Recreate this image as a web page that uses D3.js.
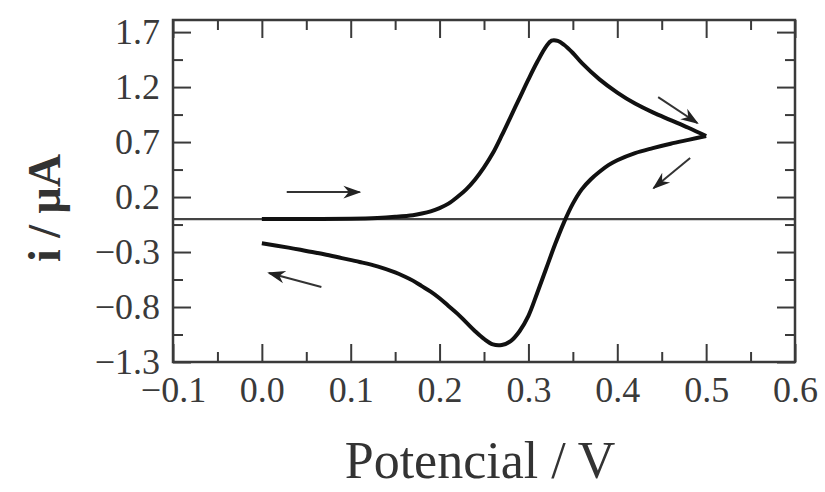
<!DOCTYPE html>
<html>
<head>
    <meta charset="utf-8">
    <style>
        body {
            margin: 0;
            background: #fff;
        }

        svg {
            display: block;
        }

        .axis .domain {
            display: none;
        }

        .axis .tick line {
            stroke: #3a3a3a;
            stroke-width: 2;
        }

        .axis .tick text {
            font-family: "Liberation Serif", "Times New Roman", serif;
            font-size: 36px;
            fill: #3a3a3a;
        }

        .label {
            font-family: "Liberation Serif", "Times New Roman", serif;
            fill: #333;
        }
    </style>
</head>

<body>
    <svg width="825" height="492"></svg>
</body>

<script src="https://cdnjs.cloudflare.com/ajax/libs/d3/7.8.5/d3.min.js"></script>

<script>
    // forward scan (0 -> 0.5 V)
    let fwdV = [0.00, 0.05, 0.10, 0.13, 0.15, 0.17, 0.18, 0.19, 0.20, 0.21, 0.22, 0.23, 0.24, 0.25, 0.26, 0.27, 0.28, 0.29, 0.30, 0.31, 0.32, 0.326, 0.333, 0.34, 0.35, 0.36, 0.38, 0.40, 0.42, 0.44, 0.46, 0.48, 0.50]
    let fwdI = [0.00, 0.00, 0.003, 0.01, 0.02, 0.035, 0.05, 0.07, 0.10, 0.14, 0.20, 0.27, 0.36, 0.47, 0.60, 0.76, 0.93, 1.10, 1.27, 1.43, 1.57, 1.622, 1.62, 1.585, 1.51, 1.42, 1.27, 1.15, 1.05, 0.97, 0.90, 0.83, 0.755]

    // reverse scan (0.5 -> 0 V)
    let revV = [0.50, 0.48, 0.46, 0.44, 0.42, 0.40, 0.39, 0.38, 0.37, 0.36, 0.35, 0.34, 0.33, 0.32, 0.31, 0.30, 0.29, 0.28, 0.27, 0.26, 0.25, 0.24, 0.23, 0.22, 0.21, 0.20, 0.19, 0.18, 0.17, 0.16, 0.15, 0.13, 0.11, 0.09, 0.07, 0.05, 0.03, 0.00]
    let revI = [0.755, 0.72, 0.685, 0.645, 0.60, 0.535, 0.49, 0.43, 0.36, 0.27, 0.14, -0.03, -0.23, -0.45, -0.67, -0.88, -1.02, -1.11, -1.145, -1.14, -1.09, -1.02, -0.94, -0.86, -0.79, -0.72, -0.66, -0.61, -0.56, -0.52, -0.485, -0.43, -0.39, -0.355, -0.32, -0.29, -0.26, -0.22]

    // arrows: [tailV, tailI, headV, headI]
    let arrows = [
        [0.028, 0.245, 0.11, 0.245],
        [0.067, -0.618, 0.008, -0.49],
        [0.446, 1.109, 0.49, 0.873],
        [0.482, 0.555, 0.441, 0.282]
    ]

    let xMajor = [-0.1, 0.0, 0.1, 0.2, 0.3, 0.4, 0.5, 0.6]
    let xMinor = [-0.05, 0.05, 0.15, 0.25, 0.35, 0.45, 0.55]
    let yMajor = [1.7, 1.2, 0.7, 0.2, -0.3, -0.8, -1.3]
    let yMinor = [1.45, 0.95, 0.45, -0.05, -0.55, -1.05]

    let margin = { top: 20, right: 30, bottom: 130, left: 173 }
    let width = 825
    let height = 492

    let svg = d3.select("svg")

    let x = d3.scaleLinear()
        .domain([-0.1, 0.6])
        .range([margin.left, width - margin.right])

    let y = d3.scaleLinear()
        .domain([-1.3, 1.81])
        .range([height - margin.bottom, margin.top])

    let x0 = margin.left, x1 = width - margin.right
    let y0 = height - margin.bottom, y1 = margin.top

    let fmt = d3.format(".1f")

    // bottom
    svg.append("g")
        .attr("class", "axis")
        .attr("transform", `translate(0,${y0})`)
        .call(d3.axisBottom(x).tickValues(xMajor).tickSize(-18).tickPadding(14).tickFormat(fmt))
    svg.append("g")
        .attr("class", "axis")
        .attr("transform", `translate(0,${y0})`)
        .call(d3.axisBottom(x).tickValues(xMinor).tickSize(-10).tickFormat(""))
    // top
    svg.append("g")
        .attr("class", "axis")
        .attr("transform", `translate(0,${y1})`)
        .call(d3.axisTop(x).tickValues(xMajor).tickSize(-18).tickFormat(""))
    svg.append("g")
        .attr("class", "axis")
        .attr("transform", `translate(0,${y1})`)
        .call(d3.axisTop(x).tickValues(xMinor).tickSize(-10).tickFormat(""))
    // left
    svg.append("g")
        .attr("class", "axis")
        .attr("transform", `translate(${x0},0)`)
        .call(d3.axisLeft(y).tickValues(yMajor).tickSize(-18).tickPadding(13).tickFormat(fmt))
    svg.append("g")
        .attr("class", "axis")
        .attr("transform", `translate(${x0},0)`)
        .call(d3.axisLeft(y).tickValues(yMinor).tickSize(-10).tickFormat(""))
    // right
    svg.append("g")
        .attr("class", "axis")
        .attr("transform", `translate(${x1},0)`)
        .call(d3.axisRight(y).tickValues(yMajor).tickSize(-18).tickFormat(""))
    svg.append("g")
        .attr("class", "axis")
        .attr("transform", `translate(${x1},0)`)
        .call(d3.axisRight(y).tickValues(yMinor).tickSize(-10).tickFormat(""))

    // zero line
    svg.append("line")
        .attr("x1", x0).attr("x2", x1)
        .attr("y1", y(0)).attr("y2", y(0))
        .attr("stroke", "#444")
        .attr("stroke-width", 2.2)

    // frame
    svg.append("rect")
        .attr("x", x0).attr("y", y1)
        .attr("width", x1 - x0).attr("height", y0 - y1)
        .attr("fill", "none")
        .attr("stroke", "#3a3a3a")
        .attr("stroke-width", 2.5)

    let line = d3.line()
        .x(d => x(d[0]))
        .y(d => y(d[1]))
        .curve(d3.curveCatmullRom)

    let fwd = fwdV.map((v, i) => [v, fwdI[i]])
    let rev = revV.map((v, i) => [v, revI[i]])

    svg.selectAll(".cv")
        .data([fwd, rev])
        .join("path")
        .attr("class", "cv")
        .attr("d", line)
        .attr("fill", "none")
        .attr("stroke", "#111")
        .attr("stroke-width", 4)
        .attr("stroke-linejoin", "round")

    svg.append("defs").append("marker")
        .attr("id", "head")
        .attr("viewBox", "0 0 10 10")
        .attr("refX", 9).attr("refY", 5)
        .attr("markerWidth", 9).attr("markerHeight", 9)
        .attr("markerUnits", "strokeWidth")
        .attr("orient", "auto")
        .append("path")
        .attr("d", "M0,1.5 L10,5 L0,8.5 L3,5 Z")
        .attr("fill", "#222")

    svg.selectAll(".arrow")
        .data(arrows)
        .join("line")
        .attr("class", "arrow")
        .attr("x1", d => x(d[0])).attr("y1", d => y(d[1]))
        .attr("x2", d => x(d[2])).attr("y2", d => y(d[3]))
        .attr("stroke", "#333")
        .attr("stroke-width", 2)
        .attr("marker-end", "url(#head)")

    svg.append("text")
        .attr("class", "label")
        .attr("x", 480)
        .attr("y", 478)
        .attr("text-anchor", "middle")
        .style("font-size", "52px")
        .text("Potencial / V")

    svg.append("text")
        .attr("class", "label")
        .attr("transform", `translate(60,${y(0.1)}) rotate(-90)`)
        .attr("text-anchor", "middle")
        .style("font-size", "46px")
        .style("font-weight", "bold")
        .text("i / μA")
</script>
</html>
